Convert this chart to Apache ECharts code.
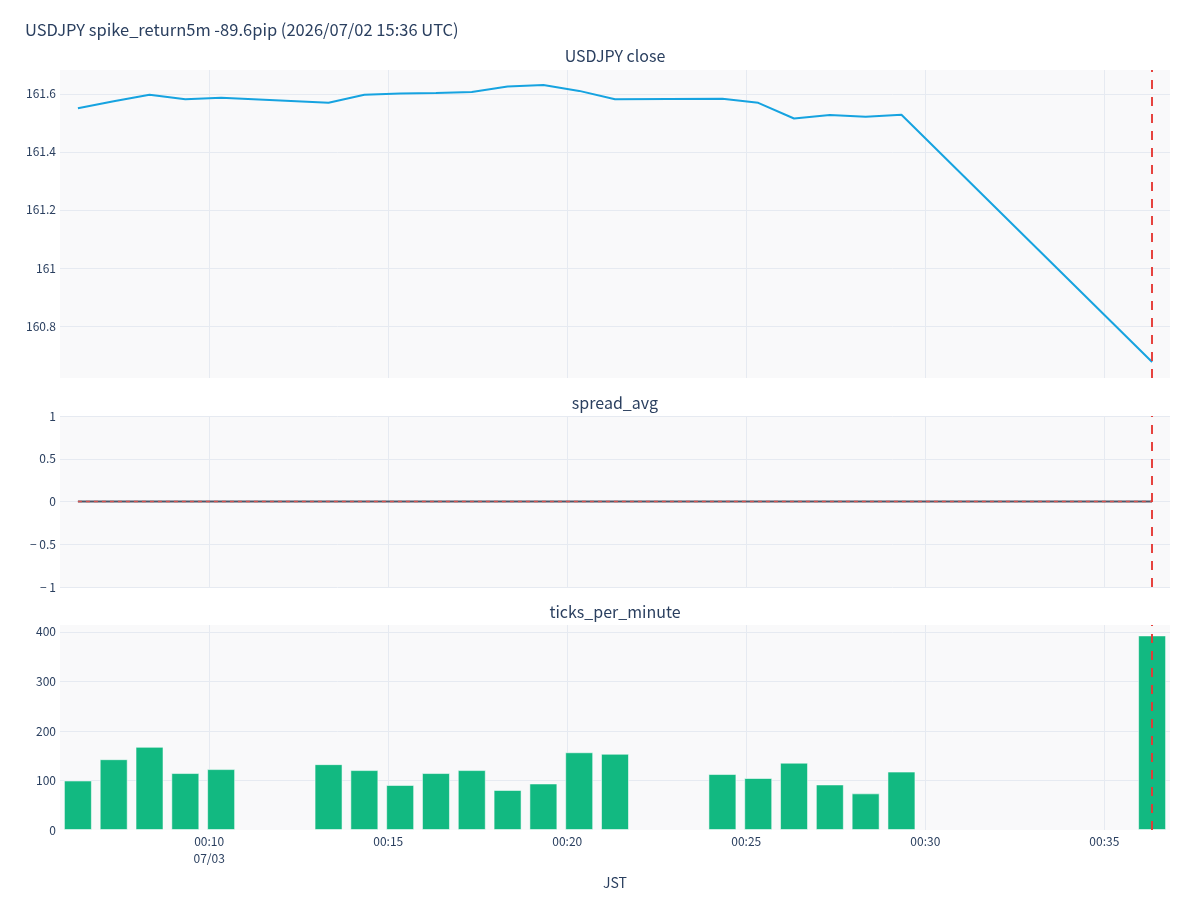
<!DOCTYPE html>
<html>
<head>
<meta charset="utf-8">
<script src="https://cdn.jsdelivr.net/npm/echarts@6/dist/echarts.min.js"></script>
<style>html,body{margin:0;padding:0;background:#fff}#c{width:1200px;height:900px}</style>
</head>
<body>
<div id="c"></div>
<script>
// ---- data (JST, 2026/07/03) ----
const times = ['00:06:20','00:07:20','00:08:20','00:09:20','00:10:20','00:13:20','00:14:20','00:15:20','00:16:20','00:17:20','00:18:20','00:19:20','00:20:20','00:21:20','00:24:20','00:25:20','00:26:20','00:27:20','00:28:20','00:29:20','00:36:20'];
const closeVals = [161.550,161.574,161.597,161.581,161.586,161.569,161.597,161.601,161.603,161.606,161.625,161.630,161.610,161.581,161.583,161.569,161.515,161.527,161.521,161.528,160.676];
const spreadVals = [0,0,0,0,0,0,0,0,0,0,0,0,0,0,0,0,0,0,0,0,0];
const ticksVals = [100,143,168,115,123,133,121,91,115,121,81,94,157,154,113,105,136,92,74,118,393];
const eventTime = '00:36:20';
const dateLabel = '07/03';
const mainTitle = 'USDJPY spike_return5m -89.6pip (2026/07/02 15:36 UTC)';
const subTitles = ['USDJPY close', 'spread_avg', 'ticks_per_minute'];
const xAxisName = 'JST';

// ---- helpers ----
function toMin(s){const p=s.split(':').map(Number);return p[0]*60+p[1]+p[2]/60;}
const xs = times.map(toMin);
const ev = toMin(eventTime);
const xMin = xs[0]-0.5, xMax = xs[xs.length-1]+0.5;
const pair = arr => arr.map((v,i)=>[xs[i], v]);
const pad = n => String(n).padStart(2,'0');
function fmtX(v){
  const h=Math.floor(v/60), m=Math.round(v-h*60);
  let s = pad(h)+':'+pad(m);
  if (v === Math.ceil(xMin/5)*5) s += '\n'+dateLabel;
  return s;
}

const FONT = '"Noto Sans CJK JP", "Noto Sans", sans-serif';
const TXT = '#2a3f5f';
const GRIDC = '#e6eaf1';
const BG = '#f9f9fa';
const L = 60, R = 30;
const grids = [
  {left:L, right:R, top:70, height:308},
  {left:L, right:R, top:416, height:171},
  {left:L, right:R, top:625, height:205}
].map(g=>Object.assign(g,{show:true, backgroundColor:BG, borderWidth:0}));

function xAx(i, labels){
  return {
    type:'value', gridIndex:i, min:xMin, max:xMax, splitNumber:6,
    axisLine:{show:false}, axisTick:{show:false},
    splitLine:{show:true, showMinLine:false, showMaxLine:false, lineStyle:{color:GRIDC, width:1}},
    axisLabel:{show:labels, formatter:fmtX, color:TXT, fontFamily:FONT, fontSize:12, margin:3, lineHeight:17, showMinLabel:false, showMaxLabel:false},
    name: labels ? xAxisName : '', nameLocation:'middle', nameGap:46,
    nameTextStyle:{color:TXT, fontFamily:FONT, fontSize:14}
  };
}
function yAx(i, o){
  return Object.assign({
    type:'value', gridIndex:i, scale:true,
    axisLine:{show:false}, axisTick:{show:false},
    splitLine:{show:true, showMinLine:false, showMaxLine:false, lineStyle:{color:GRIDC, width:1}},
    axisLabel:{color:TXT, fontFamily:FONT, fontSize:12, margin:4}
  }, o);
}
const evLine = {
  silent:true, symbol:['none','none'], label:{show:false},
  lineStyle:{color:'#e53935', type:[9,8], width:2, opacity:0.95},
  data:[{xAxis:ev}]
};
const subStyle = {color:TXT, fontFamily:FONT, fontSize:16, fontWeight:'normal'};

const option = {
  animation:false,
  backgroundColor:'#fff',
  textStyle:{fontFamily:FONT},
  title:[
    {text:mainTitle, left:25, top:21, padding:0, textStyle:{color:TXT, fontFamily:FONT, fontSize:16.5, fontWeight:'normal'}},
    {text:subTitles[0], left:615, textAlign:'center', top:48, padding:0, textStyle:subStyle},
    {text:subTitles[1], left:615, textAlign:'center', top:395, padding:0, textStyle:subStyle},
    {text:subTitles[2], left:615, textAlign:'center', top:604, padding:0, textStyle:subStyle}
  ],
  grid:grids,
  xAxis:[xAx(0,false), xAx(1,false), xAx(2,true)],
  yAxis:[
    yAx(0,{min:160.621, max:161.682, splitNumber:5, axisLabel:{color:TXT, fontFamily:FONT, fontSize:12, margin:4, showMinLabel:false, showMaxLabel:false}}),
    yAx(1,{min:-1, max:1, interval:0.5, axisLabel:{color:TXT, fontFamily:FONT, fontSize:12, margin:4, formatter:v=>String(v).replace('-','\u2212 ')},
      splitLine:{show:true, lineStyle:{color:GRIDC, width:1}}}),
    yAx(2,{min:0, max:414, interval:100, scale:false, axisLabel:{color:TXT, fontFamily:FONT, fontSize:12, margin:4, showMaxLabel:false}})
  ],
  series:[
    {type:'line', xAxisIndex:0, yAxisIndex:0, data:pair(closeVals), symbol:'none',
     lineStyle:{color:'#16a3e0', width:2}, markLine:evLine, z:3},
    {type:'line', xAxisIndex:1, yAxisIndex:1, data:pair(spreadVals), symbol:'none',
     lineStyle:{color:'#4f5666', width:2}, markLine:evLine, z:3},
    {type:'line', xAxisIndex:1, yAxisIndex:1, data:pair(spreadVals), symbol:'none',
     lineStyle:{color:'#e0524d', width:1.5, type:[4,4], opacity:0.9}, z:4},
    {type:'bar', xAxisIndex:2, yAxisIndex:2, data:pair(ticksVals), barWidth:28,
     itemStyle:{color:'#12b981', borderColor:'rgba(255,255,255,0.55)', borderWidth:1}, markLine:evLine, z:2}
  ]
};
const chart = echarts.init(document.getElementById('c'), null, {renderer:'canvas'});
chart.setOption(option);
</script>
</body>
</html>
